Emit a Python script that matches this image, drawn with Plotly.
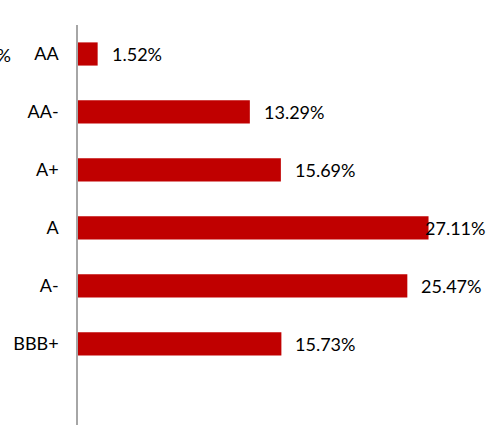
import plotly.graph_objects as go

categories = ["AA", "AA-", "A+", "A", "A-", "BBB+"]
values = [1.52, 13.29, 15.69, 27.11, 25.47, 15.73]
labels = ["1.52%", "13.29%", "15.69%", "27.11%", "25.47%", "15.73%"]

W, H = 487, 425
L, R, T, B = 78, 0, 25, 0
px_per_unit = 12.93
plot_w = W - L - R
x_max = plot_w / px_per_unit

fig = go.Figure()
fig.add_trace(go.Bar(
    y=categories, x=values, orientation="h",
    marker=dict(color="#C00000", line=dict(width=0)),
    hoverinfo="skip",
))

font = dict(family="Lato, Carlito, sans-serif", size=18, color="#000000")
annotations = []
for c, v, t in zip(categories, values, labels):
    end_px = L + v * px_per_unit
    if end_px + 14 + 64 > W:
        annotations.append(dict(xref="paper", yref="y", x=1, y=c, text=t,
                                xanchor="right", yanchor="middle", xshift=0,
                                showarrow=False, font=font))
    else:
        annotations.append(dict(xref="x", yref="y", x=v, y=c, text=t,
                                xanchor="left", yanchor="middle", xshift=12,
                                showarrow=False, font=font))
# clipped label remnant at far left
annotations.append(dict(xref="paper", yref="y", x=(13 - L) / plot_w, y=categories[0],
                        text="0%", xanchor="right", yanchor="middle", yshift=-1,
                        showarrow=False, font=font))

fig.update_layout(
    width=W, height=H,
    margin=dict(l=L, r=R, t=T, b=B, pad=0),
    paper_bgcolor="white", plot_bgcolor="white",
    showlegend=False,
    bargap=0.6,
    annotations=annotations,
    xaxis=dict(range=[0, x_max], visible=False, fixedrange=True),
    yaxis=dict(
        categoryorder="array", categoryarray=categories,
        range=[6.4, -0.5], autorange=False,
        showline=True, linecolor="#a6a6a6", linewidth=1.5,
        showgrid=False, zeroline=False,
        ticks="", ticklabelstandoff=14,
        tickfont=font,
    ),
)

fig.write_html("out.html")
